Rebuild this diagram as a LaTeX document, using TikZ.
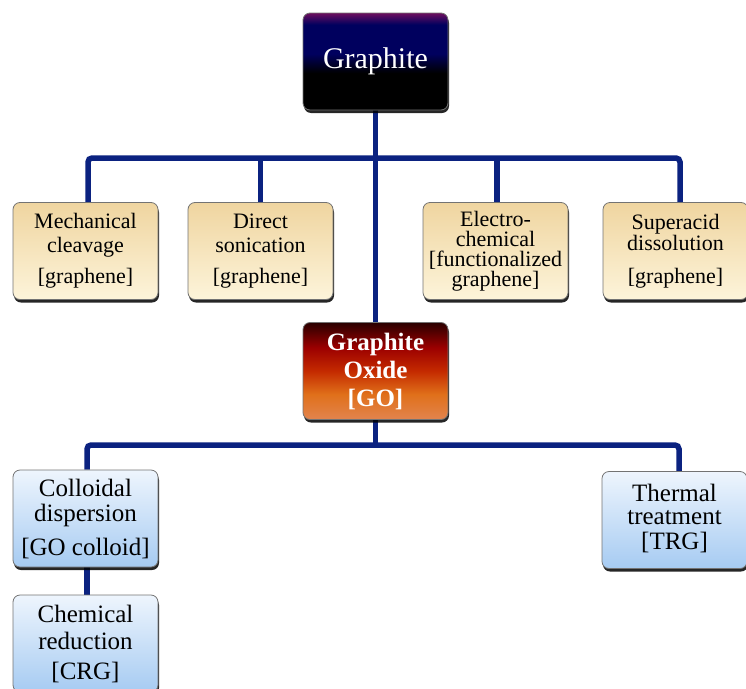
\documentclass[tikz,border=0pt]{standalone}
\usepackage{fontspec}
\setmainfont{Liberation Serif}
\usetikzlibrary{shadows,backgrounds}
\definecolor{linecol}{HTML}{0B2280}
\definecolor{tanT}{HTML}{EFD5A0}
\definecolor{tanB}{HTML}{FDF4DA}
\definecolor{bluT}{HTML}{EEF5FD}
\definecolor{bluB}{HTML}{A6CBF2}
\definecolor{goT}{HTML}{2A0000}
\definecolor{goR}{HTML}{9C0000}
\definecolor{goR2}{HTML}{C42A00}
\definecolor{goO}{HTML}{E0701A}
\definecolor{goB}{HTML}{E2844E}
\definecolor{grP}{HTML}{6E0E5E}
\definecolor{grN}{HTML}{00005E}
\pgfdeclareverticalshading{tanshade}{100bp}{color(0bp)=(tanB); color(25bp)=(tanB); color(75bp)=(tanT); color(100bp)=(tanT)}
\pgfdeclareverticalshading{blueshade}{100bp}{color(0bp)=(bluB); color(25bp)=(bluB); color(75bp)=(bluT); color(100bp)=(bluT)}
\pgfdeclareverticalshading{goshade}{100bp}{color(0bp)=(goB); color(25bp)=(goB); color(38bp)=(goO); color(50bp)=(goR2); color(62bp)=(goR); color(75bp)=(goT); color(100bp)=(goT)}
\pgfdeclareverticalshading{grshade}{100bp}{color(0bp)=(black); color(25bp)=(black); color(44bp)=(black); color(54bp)=(grN); color(69bp)=(grN); color(75bp)=(grP); color(100bp)=(grP)}
\tikzset{
  box/.style={rounded corners=7pt, minimum width=145pt, minimum height=97pt, inner sep=0pt,
    align=center, draw=black!55, line width=0.8pt, shade,
    drop shadow={shadow xshift=1pt, shadow yshift=-3pt, opacity=0.85, fill=black}},
  tanbox/.style={box, shading=tanshade, text=black},
  bluebox/.style={box, shading=blueshade, text=black},
  gobox/.style={box, shading=goshade, text=white},
  grbox/.style={box, shading=grshade, text=white},
  conn/.style={draw=linecol, line width=5.5pt}
}
\begin{document}
\begin{tikzpicture}[x=1pt,y=-1pt]
\useasboundingbox (0,0) rectangle (746,688);
\node[grbox, font=\fontsize{30}{32}\selectfont] (graphite) at (375.5,61.5) {Graphite};
\node[tanbox, font=\fontsize{22}{24}\selectfont] (mech) at (85.5,251) {Mechanical\\cleavage\\[7pt]{[}graphene{]}};
\node[tanbox, font=\fontsize{22}{24}\selectfont] (direct) at (260.5,251) {Direct\\sonication\\[7pt]{[}graphene{]}};
\node[tanbox, font=\fontsize{22}{20}\selectfont] (electro) at (495.5,251) {Electro-\\chemical\\{[}functionalized\\graphene{]}};
\node[tanbox, font=\fontsize{22}{21}\selectfont] (super) at (675.5,251) {Superacid\\dissolution\\[12pt]{[}graphene{]}};
\node[gobox, font=\fontsize{25}{28}\selectfont\bfseries] (go) at (375.5,371) {Graphite\\Oxide\\{[}GO{]}};
\node[bluebox, font=\fontsize{25}{25}\selectfont] (colloid) at (85.5,518.5) {Colloidal\\dispersion\\[9pt]{[}GO colloid{]}};
\node[bluebox, font=\fontsize{25}{23}\selectfont] (thermal) at (674.5,520) {Thermal\\treatment\\[2pt]{[}TRG{]}\\[-17pt]\mbox{}};
\node[bluebox, font=\fontsize{25}{27}\selectfont] (chem) at (85.5,643.5) {Chemical\\reduction\\[3pt]{[}CRG{]}};
\coordinate (bl1) at (88,158);
\coordinate (br1) at (680,158);
\coordinate (bl2) at (87,445);
\coordinate (br2) at (679,445);
\begin{pgfonlayer}{background}
\draw[conn] (graphite.south) -- (go.north);
\draw[conn, rounded corners=4pt] (mech.north -| bl1) |- (br1) -- (super.north -| br1);
\draw[conn] (direct.north) -- (direct.north |- bl1);
\draw[conn] (electro.north -| 497,0) -- (bl1 -| 497,0);
\draw[conn] (go.south) -- (go.south |- bl2);
\draw[conn, rounded corners=4pt] (colloid.north -| bl2) |- (br2) -- (thermal.north -| br2);
\draw[conn] (colloid.south -| bl2) -- (chem.north -| bl2);
\end{pgfonlayer}
\end{tikzpicture}
\end{document}
